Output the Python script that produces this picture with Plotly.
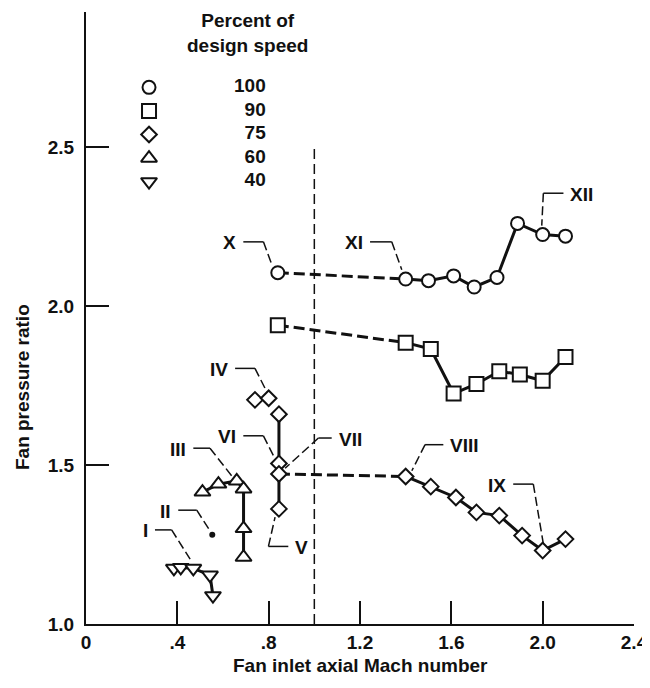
import plotly.graph_objects as go

# ---------------- data ----------------
speed_names = ["100", "90", "75", "60", "40"]

mach_100 = [0.84, 1.40, 1.50, 1.61, 1.70, 1.80, 1.89, 2.00, 2.10]
pr_100 = [2.105, 2.085, 2.08, 2.095, 2.06, 2.09, 2.26, 2.225, 2.22]

mach_90 = [0.84, 1.40, 1.51, 1.61, 1.71, 1.81, 1.90, 2.00, 2.10]
pr_90 = [1.94, 1.885, 1.865, 1.725, 1.755, 1.795, 1.785, 1.765, 1.84]

mach_75 = [0.74, 0.80, 0.845, 0.845, 0.845, 0.845, 1.40, 1.51, 1.62, 1.71, 1.81, 1.91, 2.00, 2.10]
pr_75 = [1.705, 1.71, 1.66, 1.505, 1.472, 1.362, 1.464, 1.432, 1.398, 1.351, 1.341, 1.278, 1.231, 1.267]

mach_60 = [0.51, 0.58, 0.66, 0.69, 0.69, 0.69]
pr_60 = [1.415, 1.44, 1.45, 1.425, 1.30, 1.21]

mach_40 = [0.385, 0.415, 0.47, 0.543, 0.556]
pr_40 = [1.175, 1.178, 1.175, 1.154, 1.089]

mach_II = [0.553]
pr_II = [1.281]

design_mach = 1.0
x_tick_vals = [0, 0.4, 0.8, 1.2, 1.6, 2.0, 2.4]
x_tick_text = ["0", ".4", ".8", "1.2", "1.6", "2.0", "2.4"]
y_tick_vals = [1.0, 1.5, 2.0, 2.5]
y_tick_text = ["1.0", "1.5", "2.0", "2.5"]

# callout labels: text, tip (x,y), elbow (x,y), end x, text side
callout_text = ["I", "II", "III", "IV", "VI", "VII", "V", "X", "XI", "XII", "VIII", "IX"]
callout_tip_x = [0.456, 0.543, 0.638, 0.792, 0.828, 0.872, 0.828, 0.813, 1.383, 1.996, 1.427, 2.003]
callout_tip_y = [1.204, 1.293, 1.466, 1.730, 1.519, 1.490, 1.336, 2.132, 2.114, 2.253, 1.482, 1.252]
callout_elbow_x = [0.375, 0.485, 0.543, 0.740, 0.777, 1.018, 0.799, 0.777, 1.339, 2.003, 1.485, 1.959]
callout_elbow_y = [1.296, 1.358, 1.553, 1.804, 1.592, 1.585, 1.244, 2.202, 2.202, 2.355, 1.564, 1.440]
callout_end_x = [0.302, 0.404, 0.470, 0.653, 0.689, 1.076, 0.886, 0.689, 1.244, 2.091, 1.565, 1.871]
callout_side = ["L", "L", "L", "L", "L", "R", "R", "L", "L", "R", "R", "L"]

# ---------------- styling ----------------
FONT = "Liberation Sans, Arial, Helvetica, sans-serif"
BLACK = "#111111"
SOLID_W = 3
DASH_W = 3
DASH = "11px,5px"

fig = go.Figure()


def line(xs, ys, dash=None):
    fig.add_trace(go.Scatter(
        x=xs, y=ys, mode="lines", showlegend=False, hoverinfo="skip",
        line=dict(color=BLACK, width=SOLID_W if dash is None else DASH_W, dash=dash)))


# connecting lines
line(mach_100[:2], pr_100[:2], DASH)
line(mach_100[1:], pr_100[1:])
line(mach_90[:2], pr_90[:2], DASH)
line(mach_90[1:], pr_90[1:])
line(mach_75[2:6], pr_75[2:6])
line([mach_75[4], mach_75[6]], [pr_75[4], pr_75[6]], DASH)
line(mach_75[6:], pr_75[6:])
line(mach_60, pr_60)
line(mach_40, pr_40)

marker_line = dict(color=BLACK, width=2)
symbols = ["circle", "square", "diamond", "triangle-up", "triangle-down"]
sizes = [13, 14, 12, 14, 14]
series = [(mach_100, pr_100), (mach_90, pr_90), (mach_75, pr_75), (mach_60, pr_60), (mach_40, pr_40)]
for (xs, ys), name, sym, sz in zip(series, speed_names, symbols, sizes):
    fig.add_trace(go.Scatter(
        x=xs, y=ys, mode="markers", name=name, showlegend=False,
        marker=dict(symbol=sym, size=sz, color="white", line=marker_line)))

fig.add_trace(go.Scatter(
    x=mach_II, y=pr_II, mode="markers", showlegend=False,
    marker=dict(symbol="circle", size=6, color=BLACK)))

# key (legend) drawn on a small hidden categorical axis pair
for name, sym, sz in zip(speed_names, symbols, sizes):
    fig.add_trace(go.Scatter(
        x=[0], y=[name], xaxis="x2", yaxis="y2", mode="markers", showlegend=False,
        hoverinfo="skip", cliponaxis=False,
        marker=dict(symbol=sym, size=sz, color="white", line=marker_line)))
fig.add_trace(go.Scatter(
    x=[1] * len(speed_names), y=speed_names, xaxis="x2", yaxis="y2", mode="text",
    text=speed_names, textposition="middle left", showlegend=False, hoverinfo="skip",
    cliponaxis=False,
    textfont=dict(family=FONT, size=19, color=BLACK, weight="bold")))

shapes = []
# design-speed vertical dashed line
shapes.append(dict(type="line", xref="x", yref="y", x0=design_mach, x1=design_mach,
                   y0=1.0, y1=2.5, line=dict(color=BLACK, width=1.5, dash="10px,5px")))

annotations = []
for i, t in enumerate(callout_text):
    shapes.append(dict(type="line", xref="x", yref="y",
                       x0=callout_end_x[i], y0=callout_elbow_y[i],
                       x1=callout_elbow_x[i], y1=callout_elbow_y[i],
                       line=dict(color=BLACK, width=1.5)))
    shapes.append(dict(type="line", xref="x", yref="y",
                       x0=callout_elbow_x[i], y0=callout_elbow_y[i],
                       x1=callout_tip_x[i], y1=callout_tip_y[i],
                       line=dict(color=BLACK, width=1.5, dash="9px,4px")))
    left = callout_side[i] == "L"
    annotations.append(dict(
        x=callout_end_x[i], y=callout_elbow_y[i], xref="x", yref="y",
        text=t, showarrow=False, xanchor="right" if left else "left",
        yanchor="middle", xshift=-5 if left else 5, yshift=-1,
        font=dict(family=FONT, size=19, color=BLACK, weight="bold")))

# key title
annotations.append(dict(
    x=0.294, y=0.9665, xref="paper", yref="paper", showarrow=False,
    text="Percent of<br>design speed", xanchor="center", yanchor="middle",
    font=dict(family=FONT, size=19, color=BLACK, weight="bold")))

# axis titles
annotations.append(dict(
    x=0.5, y=-0.067, xref="paper", yref="paper", showarrow=False,
    text="Fan inlet axial Mach number", xanchor="center", yanchor="middle",
    font=dict(family=FONT, size=19, color=BLACK, weight="bold")))
annotations.append(dict(
    x=-0.117, y=0.387, xref="paper", yref="paper", showarrow=False,
    text="Fan pressure ratio", textangle=-90, xanchor="center", yanchor="middle",
    font=dict(family=FONT, size=19, color=BLACK, weight="bold")))

axis_common = dict(ticks="inside", ticklen=23, tickwidth=1.5, tickcolor=BLACK,
                   showline=True, linecolor=BLACK, linewidth=2, showgrid=False,
                   zeroline=False, automargin=False, ticklabeloverflow="allow",
                   tickfont=dict(family=FONT, size=19, color=BLACK, weight="bold"))

fig.update_layout(
    width=642, height=668,
    margin=dict(l=78, r=16, t=4, b=52, autoexpand=False),
    paper_bgcolor="white", plot_bgcolor="white",
    font=dict(family=FONT, size=18, color=BLACK, weight="bold"),
    shapes=shapes, annotations=annotations,
    showlegend=False,
    xaxis=dict(range=[0, 2.4], tickvals=x_tick_vals, ticktext=x_tick_text, **axis_common),
    yaxis=dict(range=[1.0, 2.925], tickvals=y_tick_vals, ticktext=y_tick_text,
               ticklabelstandoff=6, **axis_common),
    xaxis2=dict(domain=[0.115, 0.328], range=[0, 1], visible=False, anchor="y2",
                fixedrange=True),
    yaxis2=dict(domain=[0.7034, 0.8962], type="category", categoryorder="array",
                categoryarray=speed_names, range=[4.5, -0.5], visible=False,
                anchor="x2", fixedrange=True),
)

fig.write_html("out.html")
